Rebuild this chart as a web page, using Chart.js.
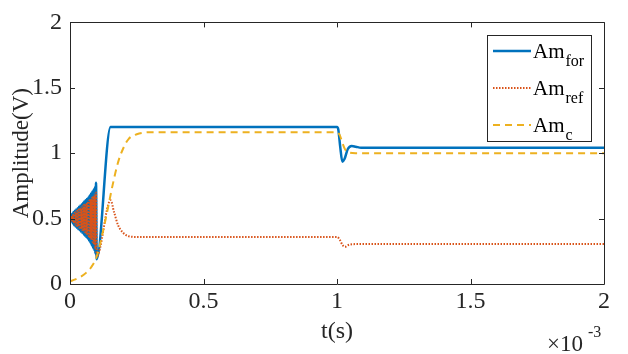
<!DOCTYPE html>
<html><head><meta charset="utf-8">
<script src="https://cdn.jsdelivr.net/npm/chart.js@4/dist/chart.umd.min.js"></script>
<style>html,body{margin:0;padding:0;background:#fff}</style>
</head><body>
<canvas id="c" width="628" height="354"></canvas>
<script>
// ---- data (time in units of 1e-3 s) ----
const xTickValues = [0, 0.5, 1, 1.5, 2];
const yTickValues = [0, 0.5, 1, 1.5, 2];

// start-up oscillation time grid (shared by Am_for and Am_ref)
const tOsc = [0,0.0025,0.005,0.0075,0.01,0.0125,0.015,0.0175,0.02,0.0225,0.025,0.0275,0.03,0.0325,0.035,0.0375,0.04,0.0425,0.045,0.0475,
              0.05,0.0525,0.055,0.0575,0.06,0.0625,0.065,0.0675,0.07,0.0725,0.075,0.0775,0.08,0.0825,0.085,0.0875,0.09,0.0925,0.095,0.0975,0.1];

const forOsc = [0.5,0.52,0.48,0.535,0.465,0.55,0.45,0.56,0.44,0.57,0.43,0.58,0.42,0.59,0.41,0.60,0.40,0.61,0.39,0.62,
                0.38,0.63,0.37,0.64,0.36,0.65,0.35,0.66,0.335,0.675,0.32,0.69,0.30,0.705,0.28,0.72,0.26,0.74,0.23,0.775,0.19];
const tForTail = [0.152,1.0,1.005,1.012,1.02,1.028,1.04,1.055,1.07,1.09,2.0];
const forTail  = [1.2,1.2,1.18,1.05,0.935,0.955,1.03,1.055,1.05,1.042,1.042];

const refOsc = [0.5,0.515,0.485,0.525,0.475,0.535,0.465,0.545,0.455,0.555,0.445,0.56,0.44,0.57,0.43,0.58,0.42,0.585,0.415,0.595,
                0.405,0.605,0.395,0.61,0.385,0.62,0.375,0.63,0.365,0.64,0.35,0.65,0.34,0.66,0.32,0.67,0.30,0.685,0.27,0.70,0.21];
const tRefTail = [0.152,0.165,0.18,0.2,0.22,0.25,1.0,1.01,1.02,1.03,1.045,1.07,2.0];
const refTail  = [0.64,0.55,0.45,0.39,0.365,0.36,0.36,0.34,0.3,0.285,0.3,0.305,0.305];

const tC = [0,0.02,0.04,0.06,0.08,0.1,0.12,0.14,0.16,0.18,0.2,0.22,0.25,0.3,1.0,1.01,1.02,1.03,1.045,1.07,2.0];
const amC = [0.02,0.035,0.055,0.085,0.13,0.21,0.37,0.56,0.76,0.93,1.04,1.11,1.145,1.16,1.16,1.14,1.08,1.03,1.005,1.0,1.0];

const seriesNames = ['for', 'ref', 'c'];
const colors = ['#0072BD', '#D95319', '#EDB120'];
const FONT = "'Liberation Serif', 'Times New Roman', serif";
const AX = '#262626';

const pts = (t, v) => t.map((x, i) => ({x: x, y: v[i]}));

const framePlugin = {
  id: 'frame',
  afterDatasetsDraw(chart) {
    const {ctx, chartArea: a, scales} = chart;
    ctx.save();
    ctx.strokeStyle = AX;
    ctx.lineWidth = 1;
    ctx.beginPath();
    ctx.rect(Math.round(a.left) + 0.5, Math.round(a.top) + 0.5, Math.round(a.right - a.left), Math.round(a.bottom - a.top));
    ctx.stroke();
    const L = 5;
    ctx.beginPath();
    scales.x.ticks.forEach(t => {
      const px = Math.round(scales.x.getPixelForValue(t.value)) + 0.5;
      ctx.moveTo(px, a.bottom); ctx.lineTo(px, a.bottom - L);
      ctx.moveTo(px, a.top); ctx.lineTo(px, a.top + L);
    });
    scales.y.ticks.forEach(t => {
      const py = Math.round(scales.y.getPixelForValue(t.value)) + 0.5;
      ctx.moveTo(a.left, py); ctx.lineTo(a.left + L, py);
      ctx.moveTo(a.right, py); ctx.lineTo(a.right - L, py);
    });
    ctx.stroke();
    ctx.restore();
  },
  afterDraw(chart) {
    const {ctx} = chart;
    ctx.save();
    // exponent label
    ctx.fillStyle = AX;
    ctx.textBaseline = 'alphabetic';
    ctx.textAlign = 'left';
    ctx.font = '23px ' + FONT;
    ctx.fillText('\u00D710', 547, 351);
    ctx.font = '16px ' + FONT;
    ctx.fillText('-3', 588, 337);
    // legend
    const bx = 487.5, by = 35.5, bw = 104, bh = 106;
    ctx.fillStyle = '#fff';
    ctx.fillRect(bx, by, bw, bh);
    ctx.strokeStyle = AX;
    ctx.lineWidth = 1;
    ctx.strokeRect(bx, by, bw, bh);
    const rowsY = [51, 88, 125];
    const dashes = [[], [1.5, 1.5], [7, 5]];
    const widths = [2.5, 2, 2];
    rowsY.forEach((y, i) => {
      ctx.beginPath();
      ctx.setLineDash(dashes[i]);
      ctx.strokeStyle = colors[i];
      ctx.lineWidth = widths[i];
      ctx.moveTo(493, y); ctx.lineTo(531, y);
      ctx.stroke();
      ctx.setLineDash([]);
      ctx.fillStyle = '#000';
      ctx.font = '21px ' + FONT;
      ctx.fillText('Am', 533, y + 7);
      const w = ctx.measureText('Am').width;
      ctx.font = '16px ' + FONT;
      ctx.fillText(seriesNames[i], 533 + w + 1, y + 15);
    });
    ctx.restore();
  }
};

new Chart(document.getElementById('c'), {
  type: 'line',
  data: {
    datasets: [
      {label: 'Am_for', order: 3, data: pts(tOsc.concat(tForTail), forOsc.concat(forTail)), borderColor: colors[0], borderWidth: 2.5, pointRadius: 0, cubicInterpolationMode: 'monotone', fill: false},
      {label: 'Am_ref', order: 2, data: pts(tOsc.concat(tRefTail), refOsc.concat(refTail)), borderColor: colors[1], borderWidth: 2, borderDash: [1.5, 1.5], pointRadius: 0, cubicInterpolationMode: 'monotone', fill: false},
      {label: 'Am_c', order: 1, data: pts(tC, amC), borderColor: colors[2], borderWidth: 2, borderDash: [7, 5], pointRadius: 0, cubicInterpolationMode: 'monotone', fill: false}
    ]
  },
  options: {
    responsive: false,
    animation: false,
    devicePixelRatio: 1,
    layout: {padding: {top: 21, right: 24, left: 0, bottom: 0}},
    plugins: {legend: {display: false}, tooltip: {enabled: false}},
    scales: {
      x: {
        type: 'linear', min: 0, max: 2,
        afterBuildTicks: s => { s.ticks = xTickValues.map(v => ({value: v})); },
        afterFit: s => { s.height = 70; },
        grid: {display: false, drawTicks: false},
        border: {display: false},
        ticks: {color: AX, font: {family: FONT, size: 24}, padding: 3, maxRotation: 0, autoSkip: false,
                callback: v => String(v)},
        title: {display: true, text: 't(s)', color: AX, font: {family: FONT, size: 24}, padding: {top: 0, bottom: 8}}
      },
      y: {
        type: 'linear', min: 0, max: 2,
        afterBuildTicks: s => { s.ticks = yTickValues.map(v => ({value: v})); },
        afterFit: s => { s.width = 70; },
        grid: {display: false, drawTicks: false},
        border: {display: false},
        ticks: {color: AX, font: {family: FONT, size: 24}, padding: 8, autoSkip: false,
                callback: v => String(v)},
        title: {display: true, text: 'Amplitude(V)', color: AX, font: {family: FONT, size: 23}, padding: {top: 8, bottom: 0}}
      }
    }
  },
  plugins: [framePlugin]
});
</script>
</body></html>
